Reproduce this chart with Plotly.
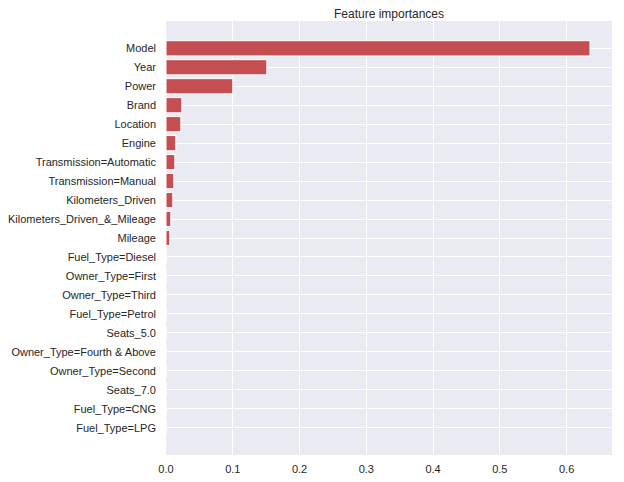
import plotly.graph_objects as go

features = ["Model", "Year", "Power", "Brand", "Location", "Engine",
            "Transmission=Automatic", "Transmission=Manual", "Kilometers_Driven",
            "Kilometers_Driven_&_Mileage", "Mileage", "Fuel_Type=Diesel",
            "Owner_Type=First", "Owner_Type=Third", "Fuel_Type=Petrol", "Seats_5.0",
            "Owner_Type=Fourth & Above", "Owner_Type=Second", "Seats_7.0",
            "Fuel_Type=CNG", "Fuel_Type=LPG"]
importances = [0.635, 0.151, 0.100, 0.0237, 0.0222, 0.0147, 0.0132, 0.0117, 0.0102,
               0.0072, 0.0057, 0.0004, 0.0003, 0.0003, 0.0002, 0.0002, 0.0001,
               0.0001, 0.0001, 0.0, 0.0]
x_ticks = [0.0, 0.1, 0.2, 0.3, 0.4, 0.5, 0.6]

fig = go.Figure(go.Bar(
    x=importances, y=features, orientation="h",
    width=0.8,
    marker=dict(color="#C44E52", line=dict(color="white", width=1)),
))

font_family = "Liberation Sans, Arial, sans-serif"
fig.update_layout(
    width=624, height=482,
    margin=dict(l=158, r=20, t=13, b=35),
    paper_bgcolor="white", plot_bgcolor="#EAEAF2",
    font=dict(family=font_family, size=11, color="#262626"),
    title=dict(text="Feature importances", xref="paper", x=0.5, xanchor="center",
               yref="container", y=1 - 1.5 / 482, yanchor="top",
               font=dict(size=12, color="#262626")),
    showlegend=False,
    bargap=0.2,
)
fig.update_xaxes(range=[0, 0.668], tickvals=x_ticks, ticktext=[f"{v:.1f}" for v in x_ticks],
                 showgrid=True, gridcolor="white", gridwidth=1, zeroline=False,
                 showline=False, ticks="", ticklabelstandoff=6, automargin=False)
fig.update_yaxes(type="category", categoryorder="array", categoryarray=features,
                 range=[20 + 1.44, -1.44], showgrid=True, gridcolor="white", gridwidth=1,
                 zeroline=False, showline=False, ticks="", ticklabelstandoff=9,
                 automargin=False)

fig.write_html("out.html")
